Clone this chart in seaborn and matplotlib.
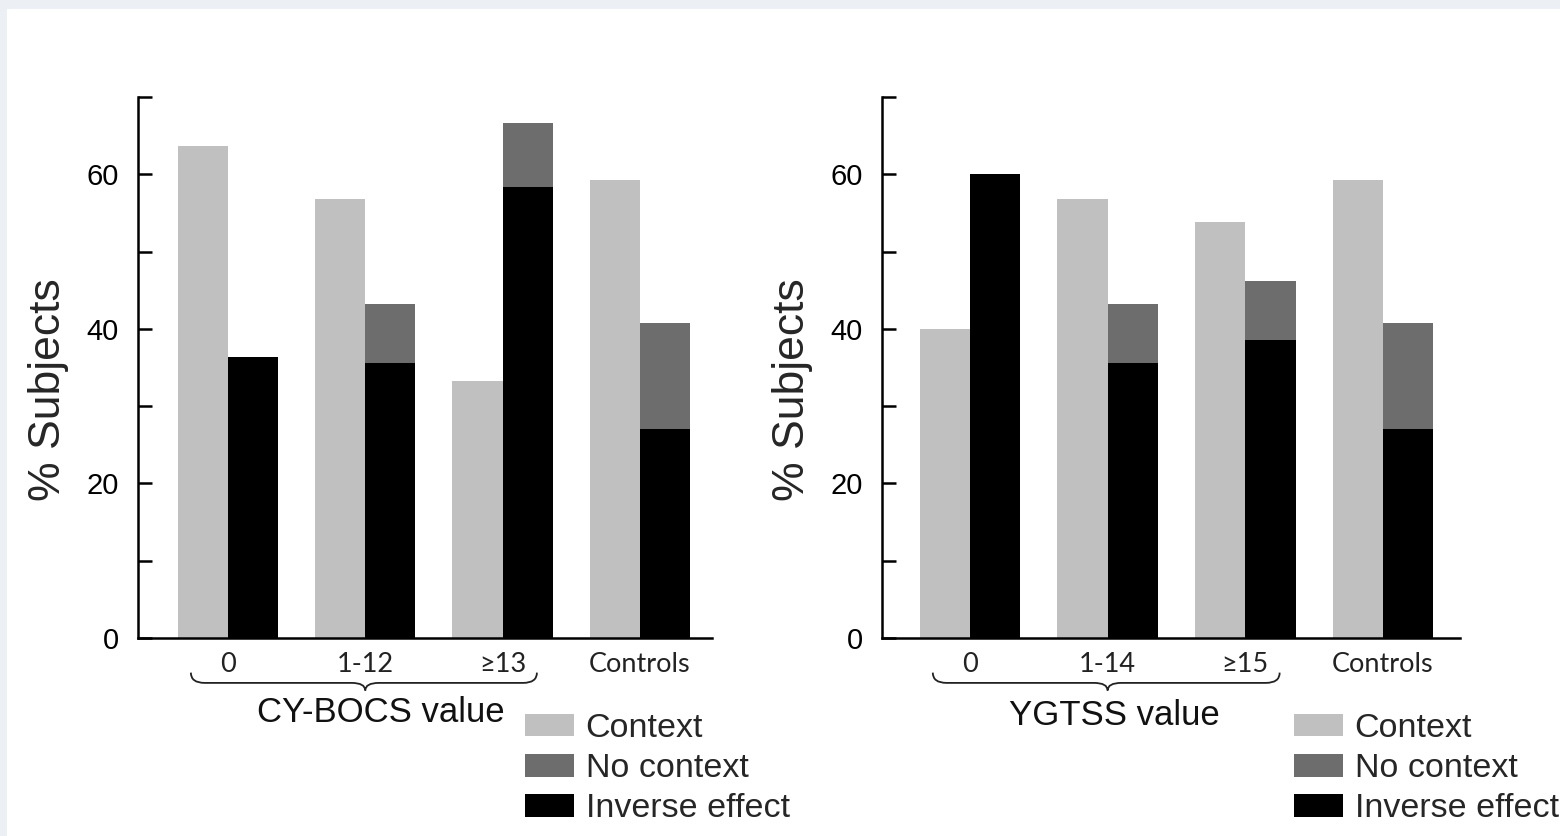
import numpy as np
import pandas as pd
import matplotlib
matplotlib.use("Agg")
import matplotlib.pyplot as plt
from matplotlib.path import Path
from matplotlib.patches import PathPatch, Patch, Rectangle
import seaborn as sns

sns.set_theme(style="white")
plt.rcParams['font.family'] = ['Liberation Sans', 'DejaVu Sans']

# data (% of subjects)
groups_cy = ['0', '1-12', '≥13', 'Controls']
context_cy = [63.6, 56.8, 33.3, 59.3]
nocontext_cy = [0.0, 7.6, 8.4, 13.7]
inverse_cy = [36.4, 35.6, 58.3, 27.0]

groups_yg = ['0', '1-14', '≥15', 'Controls']
context_yg = [40.0, 56.8, 53.8, 59.3]
nocontext_yg = [0.0, 7.6, 7.7, 13.7]
inverse_yg = [60.0, 35.6, 38.5, 27.0]

legend_labels = ['Context', 'No context', 'Inverse effect']
c_context, c_nocontext, c_inverse = '#c0c0c0', '#6d6d6d', '#000000'

fig = plt.figure(figsize=(15.6, 8.36), dpi=100)
fig.patch.set_facecolor('#eceff4')
fig.patches.append(Rectangle((7 / 1560, 0), 1, 1 - 9 / 836, transform=fig.transFigure,
                             facecolor='white', edgecolor='none', zorder=-10))


def brace(ax, x0, x1, xm):
    # curly brace below the first three groups
    yt, yl, yp = -0.064, -0.083, -0.097
    d = 0.1
    verts = [(x0, yt), (x0, yl), (x0 + d, yl),
             (xm - d, yl), (xm, yl), (xm, yp),
             (xm, yl), (xm + d, yl),
             (x1 - d, yl), (x1, yl), (x1, yt)]
    codes = [Path.MOVETO, Path.CURVE3, Path.CURVE3,
             Path.LINETO, Path.CURVE3, Path.CURVE3,
             Path.CURVE3, Path.CURVE3,
             Path.LINETO, Path.CURVE3, Path.CURVE3]
    p = PathPatch(Path(verts, codes), transform=ax.get_xaxis_transform(),
                  facecolor='none', edgecolor='#222222', lw=1.3, clip_on=False)
    ax.add_patch(p)


def panel(rect, groups, context, nocontext, inverse, xlim, title, tx, ty, leg_xy):
    ax = fig.add_axes(rect)
    ax.patch.set_alpha(0)
    df = pd.DataFrame({
        'group': groups * 2,
        'kind': ['Context'] * 4 + ['Other'] * 4,
        'total': list(context) + [a + b for a, b in zip(nocontext, inverse)],
        'base': list(context) + list(inverse),
    })
    sns.barplot(data=df, x='group', y='total', hue='kind', palette=[c_context, c_nocontext],
                width=0.73, saturation=1, linewidth=0, errorbar=None, legend=False, ax=ax)
    sns.barplot(data=df, x='group', y='base', hue='kind', palette=[c_context, c_inverse],
                width=0.73, saturation=1, linewidth=0, errorbar=None, legend=False, ax=ax)
    ax.set_xlim(*xlim)
    ax.set_ylim(0, 70)
    ax.set_yticks(range(0, 71, 10))
    ax.set_yticklabels(['0', '', '20', '', '40', '', '60', ''])
    sns.despine(ax=ax)
    for s in ['left', 'bottom']:
        ax.spines[s].set_linewidth(1.8)
        ax.spines[s].set_color('black')
    ax.tick_params(axis='y', left=True, direction='in', length=10, width=1.8, pad=14,
                   labelsize=21, colors='black')
    ax.tick_params(axis='x', bottom=False, length=0, pad=10, labelsize=19.5)
    for t in ax.get_xticklabels():
        t.set_fontfamily(['Lato', 'DejaVu Sans'])
        t.set_color('#222222')
    ax.set_xlabel('')
    ax.set_ylabel('% Subjects', fontsize=32)
    ax.yaxis.set_label_coords(-0.12, 0.46)
    brace(ax, -0.27, 2.25, 1.0)
    ax.text(tx, ty, title, transform=ax.get_xaxis_transform(), ha='center', va='center',
            fontsize=25, color='#111111')
    handles = [Patch(facecolor=c, edgecolor='none') for c in [c_context, c_nocontext, c_inverse]]
    fig.legend(handles, legend_labels, loc='upper left', bbox_to_anchor=leg_xy,
               frameon=False, fontsize=24.5, handlelength=1.43, handleheight=0.65,
               handletextpad=0.35, labelspacing=0.27, borderpad=0, borderaxespad=0)
    return ax


panel([138 / 1560, 198 / 836, 574 / 1560, 541 / 836], groups_cy, context_cy, nocontext_cy,
      inverse_cy, (-0.655, 3.525), 'CY-BOCS value', 1.11, -0.137, (525 / 1560, 1 - 713 / 836))
panel([882 / 1560, 198 / 836, 578 / 1560, 541 / 836], groups_yg, context_yg, nocontext_yg,
      inverse_yg, (-0.639, 3.56), 'YGTSS value', 1.046, -0.144, (1294 / 1560, 1 - 713 / 836))

fig.savefig('out.png', dpi=100, facecolor=fig.get_facecolor())
